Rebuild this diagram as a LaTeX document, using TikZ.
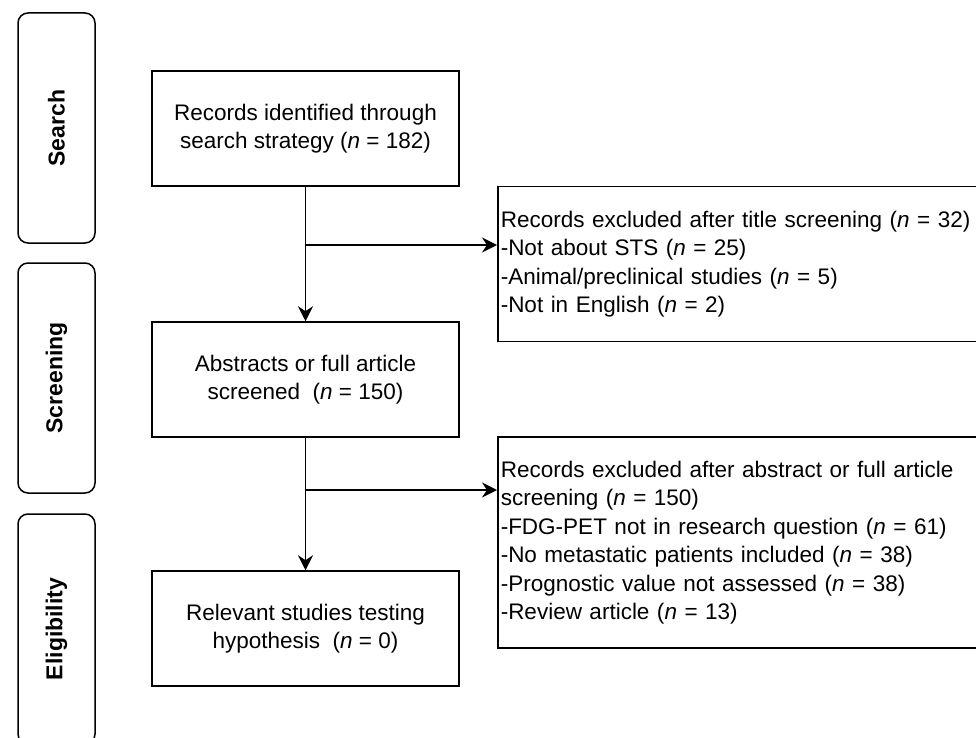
\documentclass[tikz,border=0pt]{standalone}
\usepackage{fontspec}
\setmainfont{Liberation Sans}
\usetikzlibrary{positioning, arrows.meta}

\begin{document}
\begin{tikzpicture}[x=1pt,y=-1pt,
  phase/.style={draw,line width=1.5pt,rounded corners=10pt,rotate=90,minimum width=230pt,minimum height=77pt,font=\fontsize{23}{26}\selectfont\bfseries},
  stepbox/.style={draw,line width=1.5pt,minimum width=307pt,minimum height=115pt,align=center,font=\fontsize{22.5}{28.5}\selectfont},
  exclbox/.style={draw,line width=1.5pt,anchor=west,text width=482pt,inner xsep=3pt,align=left,font=\fontsize{22.5}{28.5}\selectfont},
  flow/.style={line width=1.8pt,-{Stealth[length=15pt,width=15pt,inset=5pt]}}]
\path[use as bounding box, clip] (0,0) rectangle (976,738);

\node[phase] (search) at (56.5,128) {Search};
\node[phase] (screening) at (56.5,378) {Screening};
\node[phase] (eligib) at (56.5,629) {Eligibility};

\node[stepbox] (ident) at (305.5,128.5) {Records identified through\\search strategy (\textit{n} = 182)};
\node[stepbox] (screen) at (305.5,379.5) {Abstracts or full article\\screened~ (\textit{n} = 150)};
\node[stepbox] (relev) at (305.5,628.5) {Relevant studies testing\\hypothesis~ (\textit{n} = 0)};

\node[exclbox,minimum height=155pt] (excl1) at (497,264) {Records excluded after title screening (\textit{n} = 32)\\-Not about STS (\textit{n} = 25)\\-Animal/preclinical studies (\textit{n} = 5)\\-Not in English (\textit{n} = 2)};
\node[exclbox,minimum height=211pt] (excl2) at (497,542.5) {Records excluded after abstract or full article\\screening (\textit{n} = 150)\\-FDG-PET not in research question (\textit{n} = 61)\\-No metastatic patients included (\textit{n} = 38)\\-Prognostic value not assessed (\textit{n} = 38)\\-Review article (\textit{n} = 13)};

\draw[flow] (ident) -- (screen);
\draw[flow] (screen) -- (relev);
\coordinate (j1) at (305.5,245);
\coordinate (j2) at (305.5,490);
\draw[flow] (j1) -- (j1 -| excl1.west);
\draw[flow] (j2) -- (j2 -| excl2.west);
\end{tikzpicture}
\end{document}
